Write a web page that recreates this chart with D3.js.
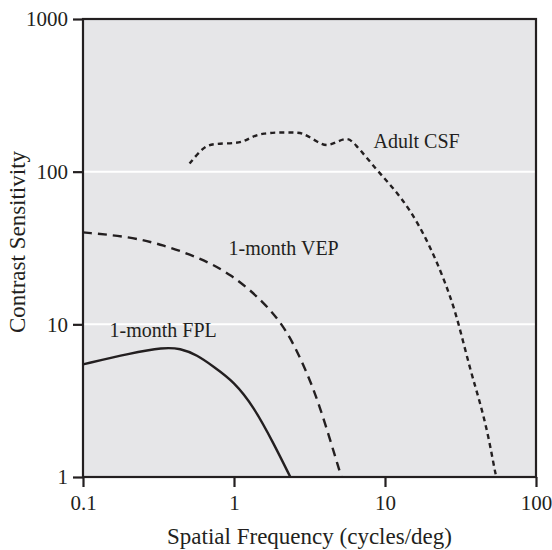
<!DOCTYPE html>
<html>
<head>
  <style>
    body { margin: 0; background: #fff; }
    text { font-family: "Liberation Serif", "Times New Roman", serif; fill: #231f20; }
  </style>
</head>
<body>
  <svg id="chart" width="552" height="550"></svg>
  <script src="https://d3js.org/d3.v7.min.js"></script>
  <script>
    // spatial frequency (cycles/deg) and contrast sensitivity
    const fplFreq = [0.1, 0.206, 0.342, 0.44, 0.569, 0.733, 1.0, 1.35, 1.83, 2.36]
    const fplSens = [5.47, 6.46, 7.07, 6.96, 6.3, 5.28, 4.21, 2.89, 1.66, 1.0]

    const vepFreq = [0.1, 0.206, 0.342, 0.569, 0.945, 1.57, 2.24, 2.89, 3.61, 5.14]
    const vepSens = [40.0, 37.5, 33.0, 27.7, 21.6, 14.1, 9.18, 5.41, 3.19, 1.0]

    const adultFreq = [0.508, 0.629, 0.733, 1.05, 1.22, 1.49, 2.61, 2.89, 3.55, 4.13, 4.81, 5.6, 6.2,
                       8.85, 11.4, 14.7, 19.0, 23.2, 27.1, 30.7, 36.7, 42.8, 48.5, 53.7, 54.7]
    const adultSens = [113, 146, 153, 153, 161, 181, 181, 178, 157, 146, 157, 167, 157,
                       102, 77.8, 56.1, 35.6, 22.7, 15.2, 10.2, 5.02, 3.04, 1.84, 1.06, 1.0]

    const xTicks = [0.1, 1, 10, 100]
    const yTicks = [1, 10, 100, 1000]
    const gridValues = [10, 100]

    const curveNames = ['1-month FPL', '1-month VEP', 'Adult CSF']
    const labelFreq = [0.15, 0.92, 8.4]
    const labelSens = [8.2, 28.4, 143]

    const margin = { top: 19, right: 16, bottom: 73, left: 83 }
    const width = 552 - margin.left - margin.right
    const height = 550 - margin.top - margin.bottom

    const svg = d3.select('#chart')
    const g = svg.append('g').attr('transform', `translate(${margin.left},${margin.top})`)

    const x = d3.scaleLog().domain([0.1, 100]).range([0, width])
    const y = d3.scaleLog().domain([1, 1000]).range([height, 0])

    g.append('rect')
      .attr('width', width).attr('height', height)
      .attr('fill', '#e6e6e8')

    g.selectAll('.grid').data(gridValues).enter()
      .append('line')
      .attr('class', 'grid')
      .attr('x1', 0).attr('x2', width)
      .attr('y1', d => y(d)).attr('y2', d => y(d))
      .attr('stroke', '#fff').attr('stroke-width', 2)

    const series = [
      { freq: fplFreq, sens: fplSens, dash: null },
      { freq: vepFreq, sens: vepSens, dash: '9,6' },
      { freq: adultFreq, sens: adultSens, dash: '5,4' }
    ]

    const line = d3.line()
      .x(d => x(d[0]))
      .y(d => y(d[1]))
      .curve(d3.curveBasis)

    series.forEach(s => {
      const pts = s.freq.map((f, i) => [f, s.sens[i]])
      g.append('path')
        .datum(pts)
        .attr('d', line)
        .attr('fill', 'none')
        .attr('stroke', '#231f20')
        .attr('stroke-width', 2.4)
        .attr('stroke-dasharray', s.dash)
    })

    curveNames.forEach((name, i) => {
      g.append('text')
        .attr('x', x(labelFreq[i]))
        .attr('y', y(labelSens[i]))
        .attr('font-size', '20px')
        .text(name)
    })

    // frame
    g.append('rect')
      .attr('width', width).attr('height', height)
      .attr('fill', 'none')
      .attr('stroke', '#231f20').attr('stroke-width', 2.2)

    const xAxis = g.append('g')
      .attr('transform', `translate(0,${height})`)
      .call(d3.axisBottom(x).tickValues(xTicks).tickFormat(d => String(d)).tickSize(10).tickSizeOuter(0).tickPadding(8))
    const yAxis = g.append('g')
      .call(d3.axisLeft(y).tickValues(yTicks).tickFormat(d => String(d)).tickSize(10).tickSizeOuter(0).tickPadding(5))

    ;[xAxis, yAxis].forEach(a => {
      a.select('.domain').remove()
      a.selectAll('line').attr('stroke', '#231f20').attr('stroke-width', 2.2)
      a.selectAll('text')
        .attr('font-family', '"Liberation Serif", "Times New Roman", serif')
        .attr('font-size', '21px')
        .attr('fill', '#231f20')
    })

    svg.append('text')
      .attr('x', margin.left + width / 2)
      .attr('y', 544)
      .attr('text-anchor', 'middle')
      .attr('font-size', '23px')
      .text('Spatial Frequency (cycles/deg)')

    svg.append('text')
      .attr('transform', `translate(25,${margin.top + height / 2 - 6}) rotate(-90)`)
      .attr('text-anchor', 'middle')
      .attr('font-size', '23px')
      .text('Contrast Sensitivity')
  </script>
</body>
</html>
